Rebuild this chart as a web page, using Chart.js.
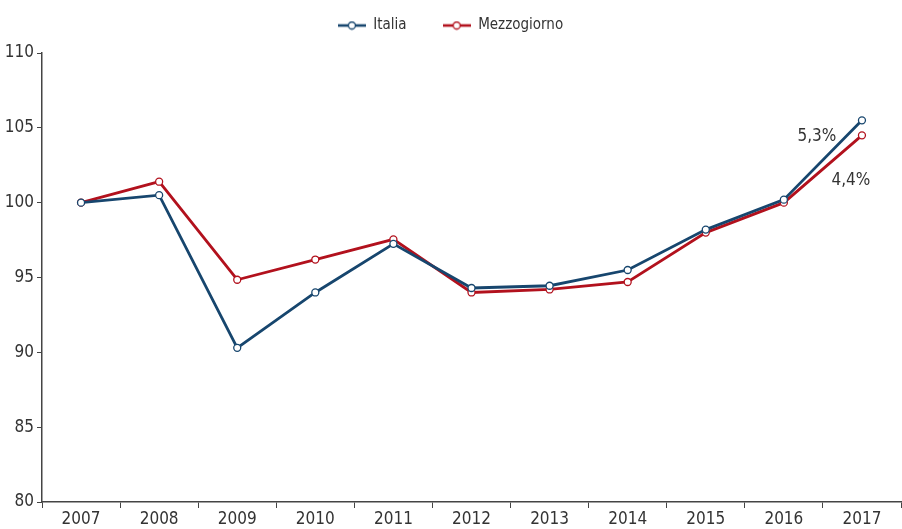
<!DOCTYPE html>
<html>
<head>
<meta charset="utf-8">
<script src="https://cdn.jsdelivr.net/npm/chart.js@4.4.1/dist/chart.umd.min.js"></script>
<style>
  html, body { margin: 0; padding: 0; background: #fff; }
  #wrap { width: 902px; height: 529px; }
</style>
</head>
<body>
<div id="wrap"><canvas id="chart" width="902" height="529"></canvas></div>
<script>
const years = ["2007", "2008", "2009", "2010", "2011", "2012", "2013", "2014", "2015", "2016", "2017"];
const italia = [100, 100.5, 90.3, 94.0, 97.25, 94.3, 94.45, 95.5, 98.2, 100.2, 105.5];
const mezzogiorno = [100, 101.4, 94.85, 96.2, 97.55, 94.0, 94.2, 94.7, 98.0, 100.0, 104.5];
const growthLabels = ["5,3%", "4,4%"];

const FONT = "'Liberation Sans Narrow', 'DejaVu Sans Condensed', 'Roboto', sans-serif";
const BLUE = "#17466e";
const RED = "#b2111d";
const TEXT = "#333333";

// small line+circle marker for the legend
function legendMarker(color) {
  const c = document.createElement("canvas");
  c.width = 28; c.height = 10;
  const g = c.getContext("2d");
  g.strokeStyle = color;
  g.lineWidth = 2.6;
  g.beginPath(); g.moveTo(0, 5); g.lineTo(28, 5); g.stroke();
  g.fillStyle = "#fff";
  g.lineWidth = 1.3;
  g.beginPath(); g.arc(14, 5, 3.5, 0, Math.PI * 2); g.fill(); g.stroke();
  return c;
}

// legend keeps wide horizontal gaps but a fixed height
const legendHeight = {
  id: "legendHeight",
  beforeInit(chart) {
    const fit = chart.legend.fit;
    chart.legend.fit = function () {
      fit.bind(chart.legend)();
      this.height += 10;
    };
  }
};

// the two growth labels next to the last points
const growthPlugin = {
  id: "growth",
  afterDatasetsDraw(chart) {
    const { ctx, scales } = chart;
    const last = years.length - 1;
    ctx.save();
    ctx.font = "17px " + FONT;
    ctx.fillStyle = TEXT;
    ctx.textAlign = "center";
    ctx.textBaseline = "middle";
    const xi = scales.x.getPixelForValue(last);
    ctx.fillText(growthLabels[0], xi - 45, scales.y.getPixelForValue(italia[last]) + 16);
    ctx.fillText(growthLabels[1], xi - 11, scales.y.getPixelForValue(mezzogiorno[last]) + 45);
    ctx.restore();
  }
};

const series = (label, data, color) => ({
  label,
  data,
  borderColor: color,
  backgroundColor: "#fff",
  borderWidth: 2.8,
  pointRadius: 3.5,
  pointHoverRadius: 3.5,
  pointBorderWidth: 1.3,
  pointBackgroundColor: "#fff",
  pointBorderColor: color,
  tension: 0
});

new Chart(document.getElementById("chart").getContext("2d"), {
  type: "line",
  data: {
    labels: years,
    datasets: [series("Italia", italia, BLUE), series("Mezzogiorno", mezzogiorno, RED)]
  },
  options: {
    responsive: false,
    animation: false,
    layout: { autoPadding: false, padding: { top: -18, right: 1, left: 0, bottom: 0 } },
    plugins: {
      tooltip: { enabled: false },
      legend: {
        display: true,
        position: "top",
        labels: {
          font: { family: FONT, size: 15 },
          color: TEXT,
          usePointStyle: true,
          pointStyleWidth: 28,
          boxHeight: 10,
          padding: 36,
          generateLabels(chart) {
            return chart.data.datasets.map((d, i) => ({
              text: d.label,
              fillStyle: d.borderColor,
              strokeStyle: d.borderColor,
              pointStyle: legendMarker(d.borderColor),
              fontColor: TEXT,
              hidden: false,
              datasetIndex: i
            }));
          }
        }
      }
    },
    scales: {
      x: {
        offset: true,
        afterFit(axis) { axis.height = 27; axis.paddingLeft = 0; axis.paddingRight = 0; },
        grid: { display: true, drawOnChartArea: false, offset: true, color: "#444", tickLength: 6, tickWidth: 1 },
        border: { display: true, color: "#444", width: 1.5 },
        ticks: { font: { family: FONT, size: 17 }, color: TEXT, padding: 1, maxRotation: 0 }
      },
      y: {
        min: 80,
        max: 110,
        afterFit(axis) { axis.width = 42; },
        grid: { display: true, drawOnChartArea: false, color: "#444", tickLength: 5, tickWidth: 1 },
        border: { display: true, color: "#444", width: 1.5 },
        ticks: { stepSize: 5, font: { family: FONT, size: 17 }, color: TEXT, padding: 3 }
      }
    }
  },
  plugins: [legendHeight, growthPlugin]
});
</script>
</body>
</html>
